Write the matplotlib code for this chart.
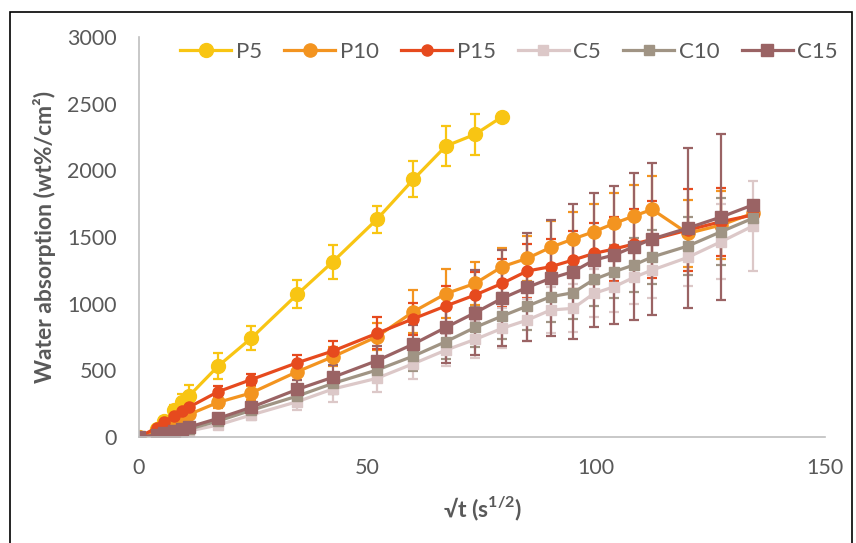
import numpy as np
import matplotlib.pyplot as plt
from matplotlib.patches import Rectangle

plt.rcParams['font.family'] = ['Lato', 'DejaVu Sans']
plt.rcParams['mathtext.fontset'] = 'custom'
plt.rcParams['mathtext.bf'] = 'Lato:bold'
plt.rcParams['mathtext.rm'] = 'Lato'

# sqrt(time) values, s^1/2
x = [0, 3.9, 5.5, 7.7, 9.5, 11.0, 17.3, 24.5, 34.6, 42.4, 52.0, 60.0, 67.1, 73.5, 79.4,
     84.9, 90.0, 94.9, 99.5, 103.9, 108.2, 112.2, 120.0, 127.3, 134.2]

p5 = [0, 60, 120, 200, 260, 310, 532, 740, 1070, 1315, 1632, 1932, 2182, 2270, 2402]
p5_err = [0, 20, 30, 40, 60, 80, 95, 90, 105, 128, 100, 135, 150, 155, 0]

p10 = [0, 50, 80, 120, 150, 170, 260, 330, 490, 602, 752, 940, 1075, 1152, 1277,
       1340, 1422, 1485, 1540, 1602, 1657, 1707, 1527, 1590, 1677]
p10_err = [0, 10, 15, 20, 25, 30, 40, 50, 60, 70, 100, 160, 185, 160, 143,
           170, 200, 200, 210, 230, 230, 253, 250, 255, 30]

p15 = [0, 70, 110, 160, 195, 225, 340, 430, 557, 645, 777, 887, 983, 1065, 1152,
       1245, 1277, 1327, 1377, 1410, 1447, 1482, 1552, 1615, 1665]
p15_err = [0, 15, 20, 25, 30, 35, 40, 40, 60, 77, 120, 120, 150, 170, 180,
           200, 210, 220, 230, 240, 260, 290, 310, 255, 40]

c5 = [0, 5, 15, 25, 35, 45, 90, 165, 265, 360, 440, 550, 652, 732, 815,
      877, 952, 965, 1077, 1127, 1197, 1252, 1347, 1465, 1582]
c5_err = [0, 5, 5, 10, 10, 15, 30, 40, 63, 95, 100, 115, 120, 140, 150,
          160, 170, 180, 180, 190, 200, 210, 215, 280, 340]

c10 = [0, 10, 20, 35, 50, 60, 120, 200, 307, 402, 502, 607, 715, 822, 907,
       982, 1052, 1082, 1182, 1240, 1290, 1350, 1432, 1540, 1640]
c10_err = [0, 5, 5, 10, 10, 15, 30, 40, 60, 80, 90, 110, 130, 150, 170,
           180, 190, 200, 200, 200, 200, 200, 220, 250, 0]

c15 = [0, 15, 30, 45, 60, 75, 140, 222, 357, 448, 572, 697, 822, 932, 1040,
       1122, 1190, 1240, 1327, 1365, 1427, 1485, 1567, 1650, 1740]
c15_err = [0, 5, 10, 10, 15, 15, 30, 40, 70, 90, 110, 140, 265, 320, 360,
           405, 435, 505, 500, 520, 550, 570, 600, 620, 0]

fig = plt.figure(figsize=(8.56, 5.43), dpi=100)
ax = fig.add_axes([0.1624, 0.1952, 0.8014, 0.7367])

series = [
    ('P5', p5, p5_err, '#F8C513', 'o', 10),
    ('P10', p10, p10_err, '#F39420', 'o', 9.5),
    ('P15', p15, p15_err, '#E64A1E', 'o', 8),
    ('C5', c5, c5_err, '#DCC8C8', 's', 7),
    ('C10', c10, c10_err, '#A09484', 's', 7),
    ('C15', c15, c15_err, '#9A6364', 's', 9),
]
for name, y, err, col, mk, ms in series:
    ax.errorbar(x[:len(y)], y, yerr=err, color=col, marker=mk, markersize=ms,
                lw=2.3, elinewidth=1.6, capsize=3.5, capthick=1.6, label=name)

ax.set_xlim(0, 150)
ax.set_ylim(0, 3000)
ax.set_xticks([0, 50, 100, 150])
ax.set_yticks(range(0, 3001, 500))
for s in ['top', 'right']:
    ax.spines[s].set_visible(False)
ax.spines['left'].set_color('#BFBFBF')
ax.spines['bottom'].set_color('#BFBFBF')
ax.spines['left'].set_linewidth(1.2)
ax.spines['bottom'].set_linewidth(1.2)
ax.tick_params(length=0, labelsize=15.5, colors='#595959')
ax.tick_params(axis='y', pad=16)
ax.tick_params(axis='x', pad=15)
ax.set_xlabel(r'√t (s$^{\mathbf{1/2}}$)', fontsize=16.5, fontweight='bold',
              color='#595959', labelpad=12)
ax.set_ylabel('Water absorption (wt%/cm²)', fontsize=16.5, fontweight='bold',
              color='#595959', labelpad=8)

handles, labels = ax.get_legend_handles_labels()
handles = [h[0] for h in handles]
fig.legend(handles, labels, loc='center right', bbox_to_anchor=(0.997, 0.905), ncol=6,
           frameon=False, fontsize=16, labelcolor='#595959', handlelength=2.3,
           columnspacing=1.0, handletextpad=0.2, borderpad=0.2)

fig.patches.append(Rectangle((10 / 856, -0.01), 842 / 856, 0.9879, transform=fig.transFigure,
                             fill=False, edgecolor='black', lw=1.2))
fig.savefig('out.png', dpi=100)
